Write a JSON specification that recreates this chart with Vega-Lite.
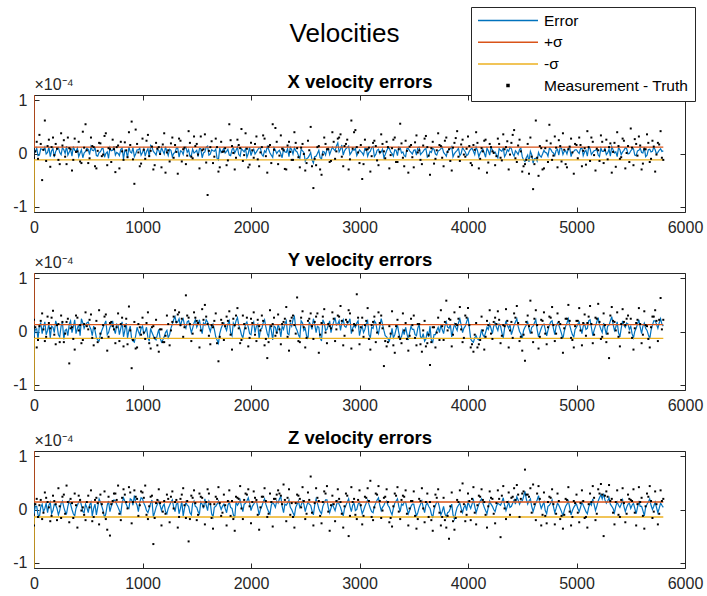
{
"$schema":"https://vega.github.io/schema/vega-lite/v6.json",
"padding":{"left":12,"top":6,"right":4,"bottom":4},
"config":{"view":{"stroke":"#262626","strokeWidth":1},"font":"Liberation Sans","axis":{"grid":false,"domain":false,"tickSize":-5,"tickColor":"#262626","labelColor":"#262626","labelFont":"Liberation Sans","labelFontSize":16,"labelFlush":false,"titleFont":"Liberation Sans"}},
"datasets":{
"vx":[{"t":0,"e":5,"m":-8},{"t":25,"e":10,"m":22},{"t":50,"e":-3,"m":35},{"t":75,"e":8,"m":-50},{"t":100,"e":12,"m":62},{"t":125,"e":2,"m":14},{"t":150,"e":-6,"m":-25},{"t":175,"e":9,"m":30},{"t":200,"e":4,"m":18},{"t":225,"e":11,"m":-12},
{"t":250,"e":-2,"m":38},{"t":275,"e":7,"m":25},{"t":300,"e":14,"m":-20},{"t":325,"e":3,"m":10},{"t":350,"e":-5,"m":-32},{"t":375,"e":6,"m":28},{"t":400,"e":10,"m":4},{"t":425,"e":1,"m":-15},{"t":450,"e":-8,"m":41},{"t":475,"e":4,"m":55},
{"t":500,"e":8,"m":-18},{"t":525,"e":13,"m":30},{"t":550,"e":5,"m":12},{"t":575,"e":-4,"m":-28},{"t":600,"e":2,"m":20},{"t":625,"e":9,"m":-5},{"t":650,"e":-7,"m":33},{"t":675,"e":3,"m":-22},{"t":700,"e":11,"m":8},{"t":725,"e":6,"m":26},
{"t":750,"e":-3,"m":-35},{"t":775,"e":0,"m":15},{"t":800,"e":8,"m":22},{"t":825,"e":-10,"m":-12},{"t":850,"e":4,"m":6},{"t":875,"e":12,"m":40},{"t":900,"e":1,"m":60},{"t":925,"e":-6,"m":-57},{"t":950,"e":7,"m":18},{"t":975,"e":10,"m":-24},
{"t":1000,"e":2,"m":28},{"t":1025,"e":-5,"m":-10},{"t":1050,"e":9,"m":35},{"t":1075,"e":15,"m":5},{"t":1100,"e":4,"m":-30},{"t":1125,"e":-3,"m":20},{"t":1150,"e":6,"m":12},{"t":1175,"e":11,"m":-26},{"t":1200,"e":-1,"m":38},{"t":1225,"e":3,"m":2},
{"t":1250,"e":8,"m":-15},{"t":1275,"e":-6,"m":30},{"t":1300,"e":2,"m":16},{"t":1325,"e":10,"m":-38},{"t":1350,"e":5,"m":24},{"t":1375,"e":-2,"m":8},{"t":1400,"e":12,"m":-20},{"t":1425,"e":7,"m":42},{"t":1450,"e":-4,"m":-6},{"t":1475,"e":1,"m":32},
{"t":1500,"e":6,"m":18},{"t":1525,"e":9,"m":-28},{"t":1550,"e":-8,"m":6},{"t":1575,"e":3,"m":36},{"t":1600,"e":14,"m":-78},{"t":1625,"e":-1,"m":12},{"t":1650,"e":5,"m":-18},{"t":1675,"e":8,"m":28},{"t":1700,"e":-12,"m":-34},{"t":1725,"e":2,"m":22},
{"t":1750,"e":10,"m":4},{"t":1775,"e":4,"m":-22},{"t":1800,"e":-3,"m":55},{"t":1825,"e":7,"m":14},{"t":1850,"e":1,"m":-30},{"t":1875,"e":12,"m":26},{"t":1900,"e":-5,"m":10},{"t":1925,"e":6,"m":-14},{"t":1950,"e":9,"m":38},{"t":1975,"e":0,"m":-26},
{"t":2000,"e":-4,"m":20},{"t":2025,"e":8,"m":-8},{"t":2050,"e":3,"m":32},{"t":2075,"e":11,"m":-24},{"t":2100,"e":-2,"m":12},{"t":2125,"e":5,"m":28},{"t":2150,"e":13,"m":-36},{"t":2175,"e":1,"m":16},{"t":2200,"e":-7,"m":55},{"t":2225,"e":6,"m":48},
{"t":2250,"e":4,"m":-20},{"t":2275,"e":-1,"m":34},{"t":2300,"e":9,"m":6},{"t":2325,"e":2,"m":-30},{"t":2350,"e":-6,"m":22},{"t":2375,"e":7,"m":-12},{"t":2400,"e":11,"m":40},{"t":2425,"e":3,"m":10},{"t":2450,"e":-9,"m":-26},{"t":2475,"e":5,"m":18},
{"t":2500,"e":-14,"m":-32},{"t":2525,"e":-8,"m":24},{"t":2550,"e":2,"m":50},{"t":2575,"e":-18,"m":-65},{"t":2600,"e":-5,"m":-22},{"t":2625,"e":6,"m":14},{"t":2650,"e":-10,"m":-40},{"t":2675,"e":3,"m":30},{"t":2700,"e":8,"m":8},{"t":2725,"e":-2,"m":-16},
{"t":2750,"e":12,"m":40},{"t":2775,"e":5,"m":-10},{"t":2800,"e":20,"m":28},{"t":2825,"e":8,"m":36},{"t":2850,"e":-3,"m":-24},{"t":2875,"e":9,"m":18},{"t":2900,"e":14,"m":-30},{"t":2925,"e":2,"m":62},{"t":2950,"e":6,"m":40},{"t":2975,"e":-4,"m":12},
{"t":3000,"e":7,"m":-18},{"t":3025,"e":1,"m":-48},{"t":3050,"e":10,"m":26},{"t":3075,"e":-5,"m":8},{"t":3100,"e":4,"m":-34},{"t":3125,"e":13,"m":20},{"t":3150,"e":-2,"m":14},{"t":3175,"e":8,"m":-22},{"t":3200,"e":3,"m":36},{"t":3225,"e":-8,"m":4},
{"t":3250,"e":5,"m":22},{"t":3275,"e":10,"m":-28},{"t":3300,"e":0,"m":10},{"t":3325,"e":7,"m":30},{"t":3350,"e":-4,"m":-16},{"t":3375,"e":11,"m":56},{"t":3400,"e":3,"m":-8},{"t":3425,"e":-6,"m":24},{"t":3450,"e":9,"m":-36},{"t":3475,"e":2,"m":16},
{"t":3500,"e":6,"m":-26},{"t":3525,"e":-3,"m":34},{"t":3550,"e":12,"m":6},{"t":3575,"e":1,"m":-20},{"t":3600,"e":8,"m":28},{"t":3625,"e":-7,"m":12},{"t":3650,"e":4,"m":-40},{"t":3675,"e":10,"m":22},{"t":3700,"e":-1,"m":-10},{"t":3725,"e":5,"m":38},
{"t":3750,"e":9,"m":14},{"t":3775,"e":2,"m":-24},{"t":3800,"e":-5,"m":30},{"t":3825,"e":7,"m":8},{"t":3850,"e":13,"m":-32},{"t":3875,"e":0,"m":20},{"t":3900,"e":6,"m":42},{"t":3925,"e":-4,"m":-14},{"t":3950,"e":11,"m":26},{"t":3975,"e":3,"m":-6},
{"t":4000,"e":-2,"m":32},{"t":4025,"e":8,"m":-18},{"t":4050,"e":4,"m":16},{"t":4075,"e":12,"m":40},{"t":4100,"e":-6,"m":-28},{"t":4125,"e":5,"m":10},{"t":4150,"e":1,"m":24},{"t":4175,"e":10,"m":-36},{"t":4200,"e":-3,"m":18},{"t":4225,"e":7,"m":4},
{"t":4250,"e":3,"m":-22},{"t":4275,"e":-8,"m":28},{"t":4300,"e":6,"m":-8},{"t":4325,"e":11,"m":36},{"t":4350,"e":-1,"m":12},{"t":4375,"e":4,"m":-30},{"t":4400,"e":9,"m":20},{"t":4425,"e":-5,"m":44},{"t":4450,"e":2,"m":-16},{"t":4475,"e":8,"m":26},
{"t":4500,"e":-6,"m":-34},{"t":4525,"e":-15,"m":-20},{"t":4550,"e":-3,"m":18},{"t":4575,"e":4,"m":30},{"t":4600,"e":-18,"m":-67},{"t":4625,"e":-9,"m":62},{"t":4650,"e":2,"m":-42},{"t":4675,"e":-7,"m":10},{"t":4700,"e":6,"m":-28},{"t":4725,"e":1,"m":24},
{"t":4750,"e":10,"m":54},{"t":4775,"e":3,"m":-12},{"t":4800,"e":-4,"m":32},{"t":4825,"e":8,"m":-26},{"t":4850,"e":12,"m":14},{"t":4875,"e":-2,"m":38},{"t":4900,"e":5,"m":-20},{"t":4925,"e":9,"m":8},{"t":4950,"e":-6,"m":28},{"t":4975,"e":4,"m":-38},
{"t":5000,"e":7,"m":16},{"t":5025,"e":0,"m":30},{"t":5050,"e":11,"m":-24},{"t":5075,"e":3,"m":10},{"t":5100,"e":-5,"m":42},{"t":5125,"e":9,"m":-14},{"t":5150,"e":2,"m":22},{"t":5175,"e":6,"m":-32},{"t":5200,"e":-3,"m":6},{"t":5225,"e":10,"m":34},
{"t":5250,"e":4,"m":-18},{"t":5275,"e":-2,"m":26},{"t":5300,"e":8,"m":12},{"t":5325,"e":13,"m":-36},{"t":5350,"e":1,"m":20},{"t":5375,"e":-6,"m":40},{"t":5400,"e":7,"m":-10},{"t":5425,"e":3,"m":28},{"t":5450,"e":11,"m":-28},{"t":5475,"e":-1,"m":14},
{"t":5500,"e":5,"m":47},{"t":5525,"e":9,"m":-22},{"t":5550,"e":-4,"m":18},{"t":5575,"e":6,"m":32},{"t":5600,"e":2,"m":-30},{"t":5625,"e":12,"m":8},{"t":5650,"e":-3,"m":36},{"t":5675,"e":8,"m":-16},{"t":5700,"e":4,"m":24},{"t":5725,"e":7,"m":-34},
{"t":5750,"e":2,"m":20},{"t":5775,"e":9,"m":42},{"t":5800,"e":5,"m":-12},
{"t":12,"e":3,"m":4},{"t":37,"e":-4,"m":-10},{"t":62,"e":9,"m":18},{"t":87,"e":6,"m":7},{"t":112,"e":-1,"m":-14},{"t":137,"e":12,"m":26},{"t":162,"e":5,"m":12},{"t":187,"e":-7,"m":-3},{"t":212,"e":8,"m":9},{"t":237,"e":2,"m":-20},
{"t":262,"e":11,"m":15},{"t":287,"e":0,"m":-6},{"t":312,"e":-3,"m":30},{"t":337,"e":8,"m":8},{"t":362,"e":13,"m":-12},{"t":387,"e":4,"m":3},{"t":412,"e":-6,"m":22},{"t":437,"e":7,"m":-18},{"t":462,"e":1,"m":11},{"t":487,"e":10,"m":6},
{"t":512,"e":-2,"m":-9},{"t":537,"e":6,"m":14},{"t":562,"e":12,"m":-24},{"t":587,"e":-5,"m":5},{"t":612,"e":3,"m":19},{"t":637,"e":9,"m":-2},{"t":662,"e":0,"m":38},{"t":687,"e":-9,"m":10},{"t":712,"e":5,"m":-16},{"t":737,"e":14,"m":8},
{"t":762,"e":2,"m":12},{"t":787,"e":-4,"m":-28},{"t":812,"e":10,"m":4},{"t":837,"e":6,"m":21},{"t":862,"e":-8,"m":-7},{"t":887,"e":3,"m":16},{"t":912,"e":11,"m":-11},{"t":937,"e":-1,"m":45},{"t":962,"e":7,"m":2},{"t":987,"e":-3,"m":-19},
{"t":1012,"e":9,"m":7},{"t":1037,"e":4,"m":24},{"t":1062,"e":-6,"m":-5},{"t":1087,"e":12,"m":13},{"t":1112,"e":1,"m":-22},{"t":1137,"e":8,"m":9},{"t":1162,"e":-2,"m":-1},{"t":1187,"e":5,"m":17},{"t":1212,"e":13,"m":-36},{"t":1237,"e":-4,"m":6},
{"t":1262,"e":6,"m":19},{"t":1287,"e":0,"m":-8},{"t":1312,"e":10,"m":3},{"t":1337,"e":-7,"m":28},{"t":1362,"e":4,"m":-15},{"t":1387,"e":11,"m":11},{"t":1412,"e":2,"m":-4},{"t":1437,"e":-5,"m":20},{"t":1462,"e":8,"m":-9},{"t":1487,"e":3,"m":14},
{"t":1512,"e":-6,"m":-2},{"t":1537,"e":9,"m":32},{"t":1562,"e":1,"m":8},{"t":1587,"e":12,"m":-17},{"t":1612,"e":-3,"m":5},{"t":1637,"e":7,"m":23},{"t":1662,"e":4,"m":-6},{"t":1687,"e":-9,"m":12},{"t":1712,"e":10,"m":-26},{"t":1737,"e":5,"m":3},
{"t":1762,"e":1,"m":10},{"t":1787,"e":8,"m":-13},{"t":1812,"e":-4,"m":25},{"t":1837,"e":11,"m":1},{"t":1862,"e":6,"m":-8},{"t":1887,"e":-2,"m":16},{"t":1912,"e":9,"m":46},{"t":1937,"e":3,"m":-3},{"t":1962,"e":-7,"m":9},{"t":1987,"e":12,"m":-21},
{"t":2012,"e":4,"m":6},{"t":2037,"e":-1,"m":18},{"t":2062,"e":7,"m":-11},{"t":2087,"e":10,"m":2},{"t":2112,"e":-5,"m":34},{"t":2137,"e":2,"m":-5},{"t":2162,"e":8,"m":13},{"t":2187,"e":-3,"m":-18},{"t":2212,"e":11,"m":7},{"t":2237,"e":0,"m":22},
{"t":2262,"e":6,"m":-4},{"t":2287,"e":-8,"m":9},{"t":2312,"e":3,"m":-29},{"t":2337,"e":9,"m":15},{"t":2362,"e":12,"m":3},{"t":2387,"e":-1,"m":-12},{"t":2412,"e":5,"m":20},{"t":2437,"e":-4,"m":-7},{"t":2462,"e":8,"m":11},{"t":2487,"e":2,"m":-1},
{"t":2512,"e":-10,"m":-18},{"t":2537,"e":-4,"m":6},{"t":2562,"e":-12,"m":-24},{"t":2587,"e":-6,"m":-10},{"t":2612,"e":0,"m":12},{"t":2637,"e":-8,"m":-30},{"t":2662,"e":4,"m":-2},{"t":2687,"e":-3,"m":18},{"t":2712,"e":10,"m":8},{"t":2737,"e":5,"m":-14},
{"t":2762,"e":8,"m":22},{"t":2787,"e":14,"m":4},{"t":2812,"e":3,"m":30},{"t":2837,"e":16,"m":-6},{"t":2862,"e":5,"m":14},{"t":2887,"e":11,"m":26},{"t":2912,"e":-2,"m":-11},{"t":2937,"e":7,"m":9},{"t":2962,"e":10,"m":44},{"t":2987,"e":1,"m":2},
{"t":3012,"e":4,"m":16},{"t":3037,"e":-3,"m":-20},{"t":3062,"e":9,"m":7},{"t":3087,"e":2,"m":11},{"t":3112,"e":11,"m":-5},{"t":3137,"e":-6,"m":24},{"t":3162,"e":6,"m":-13},{"t":3187,"e":0,"m":3},{"t":3212,"e":8,"m":18},{"t":3237,"e":-2,"m":-9},
{"t":3262,"e":10,"m":12},{"t":3287,"e":3,"m":-3},{"t":3312,"e":-5,"m":26},{"t":3337,"e":6,"m":-16},{"t":3362,"e":12,"m":8},{"t":3387,"e":1,"m":19},{"t":3412,"e":-4,"m":-24},{"t":3437,"e":9,"m":5},{"t":3462,"e":5,"m":13},{"t":3487,"e":-1,"m":-7},
{"t":3512,"e":7,"m":21},{"t":3537,"e":11,"m":2},{"t":3562,"e":-2,"m":-12},{"t":3587,"e":4,"m":15},{"t":3612,"e":9,"m":33},{"t":3637,"e":-5,"m":-4},{"t":3662,"e":2,"m":10},{"t":3687,"e":8,"m":-19},{"t":3712,"e":-3,"m":6},{"t":3737,"e":6,"m":16},
{"t":3762,"e":12,"m":-8},{"t":3787,"e":-1,"m":24},{"t":3812,"e":5,"m":3},{"t":3837,"e":9,"m":-14},{"t":3862,"e":-6,"m":11},{"t":3887,"e":3,"m":29},{"t":3912,"e":10,"m":-6},{"t":3937,"e":0,"m":17},{"t":3962,"e":7,"m":-2},{"t":3987,"e":-4,"m":9},
{"t":4012,"e":4,"m":14},{"t":4037,"e":10,"m":-22},{"t":4062,"e":-2,"m":7},{"t":4087,"e":6,"m":20},{"t":4112,"e":1,"m":-10},{"t":4137,"e":8,"m":4},{"t":4162,"e":-7,"m":26},{"t":4187,"e":5,"m":-17},{"t":4212,"e":11,"m":12},{"t":4237,"e":2,"m":1},
{"t":4262,"e":-3,"m":-5},{"t":4287,"e":9,"m":18},{"t":4312,"e":4,"m":-13},{"t":4337,"e":-6,"m":8},{"t":4362,"e":7,"m":23},{"t":4387,"e":12,"m":-2},{"t":4412,"e":0,"m":35},{"t":4437,"e":5,"m":-9},{"t":4462,"e":-2,"m":15},{"t":4487,"e":10,"m":4},
{"t":4512,"e":-12,"m":-24},{"t":4537,"e":-8,"m":-12},{"t":4562,"e":-16,"m":-38},{"t":4587,"e":-2,"m":-6},{"t":4612,"e":-10,"m":-20},{"t":4637,"e":-14,"m":-8},{"t":4662,"e":-4,"m":14},{"t":4687,"e":-1,"m":-30},{"t":4712,"e":2,"m":10},{"t":4737,"e":-5,"m":-16},
{"t":4762,"e":8,"m":19},{"t":4787,"e":1,"m":-4},{"t":4812,"e":6,"m":11},{"t":4837,"e":-3,"m":25},{"t":4862,"e":10,"m":-15},{"t":4887,"e":4,"m":7},{"t":4912,"e":-1,"m":-26},{"t":4937,"e":12,"m":13},{"t":4962,"e":2,"m":2},{"t":4987,"e":7,"m":18},
{"t":5012,"e":3,"m":-9},{"t":5037,"e":9,"m":16},{"t":5062,"e":-4,"m":5},{"t":5087,"e":6,"m":-21},{"t":5112,"e":12,"m":12},{"t":5137,"e":-2,"m":30},{"t":5162,"e":5,"m":-3},{"t":5187,"e":8,"m":9},{"t":5212,"e":-6,"m":-14},{"t":5237,"e":4,"m":22},
{"t":5262,"e":10,"m":6},{"t":5287,"e":1,"m":-11},{"t":5312,"e":-5,"m":19},{"t":5337,"e":7,"m":3},{"t":5362,"e":3,"m":-25},{"t":5387,"e":11,"m":14},{"t":5412,"e":-2,"m":-7},{"t":5437,"e":6,"m":24},{"t":5462,"e":9,"m":1},{"t":5487,"e":0,"m":-16},
{"t":5512,"e":8,"m":11},{"t":5537,"e":-3,"m":27},{"t":5562,"e":5,"m":-4},{"t":5587,"e":10,"m":15},{"t":5612,"e":1,"m":-19},{"t":5637,"e":-6,"m":8},{"t":5662,"e":7,"m":20},{"t":5687,"e":3,"m":-10},{"t":5712,"e":12,"m":13},{"t":5737,"e":-1,"m":-2},
{"t":5762,"e":6,"m":17},{"t":5787,"e":4,"m":-8}],
"vy":[{"t":0,"e":-10,"m":22},{"t":25,"e":5,"m":-30},{"t":50,"e":12,"m":10},{"t":75,"e":-4,"m":34},{"t":100,"e":18,"m":-18},{"t":125,"e":2,"m":28},{"t":150,"e":-12,"m":6},{"t":175,"e":8,"m":39},{"t":200,"e":20,"m":-24},{"t":225,"e":-6,"m":14},
{"t":250,"e":10,"m":30},{"t":275,"e":-15,"m":-20},{"t":300,"e":4,"m":18},{"t":325,"e":14,"m":-60},{"t":350,"e":-2,"m":8},{"t":375,"e":22,"m":-34},{"t":400,"e":6,"m":26},{"t":425,"e":-8,"m":12},{"t":450,"e":16,"m":-16},{"t":475,"e":12,"m":36},
{"t":500,"e":18,"m":4},{"t":525,"e":4,"m":32},{"t":550,"e":10,"m":-26},{"t":575,"e":-12,"m":20},{"t":600,"e":-18,"m":40},{"t":625,"e":2,"m":-12},{"t":650,"e":14,"m":28},{"t":675,"e":-6,"m":-36},{"t":700,"e":8,"m":16},{"t":725,"e":20,"m":10},
{"t":750,"e":-4,"m":-22},{"t":775,"e":12,"m":34},{"t":800,"e":6,"m":14},{"t":825,"e":-10,"m":-28},{"t":850,"e":16,"m":24},{"t":875,"e":2,"m":47},{"t":900,"e":-14,"m":-69},{"t":925,"e":-20,"m":18},{"t":950,"e":8,"m":-30},{"t":975,"e":-6,"m":8},
{"t":1000,"e":10,"m":26},{"t":1025,"e":0,"m":-14},{"t":1050,"e":-12,"m":36},{"t":1075,"e":6,"m":-32},{"t":1100,"e":-8,"m":10},{"t":1125,"e":-16,"m":22},{"t":1150,"e":4,"m":-38},{"t":1175,"e":-20,"m":4},{"t":1200,"e":-10,"m":-20},{"t":1225,"e":2,"m":30},
{"t":1250,"e":-6,"m":-26},{"t":1275,"e":14,"m":18},{"t":1300,"e":28,"m":40},{"t":1325,"e":18,"m":32},{"t":1350,"e":10,"m":12},{"t":1375,"e":24,"m":-10},{"t":1400,"e":6,"m":68},{"t":1425,"e":20,"m":26},{"t":1450,"e":-2,"m":-18},{"t":1475,"e":16,"m":36},
{"t":1500,"e":8,"m":20},{"t":1525,"e":22,"m":-30},{"t":1550,"e":-4,"m":42},{"t":1575,"e":12,"m":50},{"t":1600,"e":18,"m":14},{"t":1625,"e":0,"m":-24},{"t":1650,"e":14,"m":8},{"t":1675,"e":-10,"m":34},{"t":1700,"e":-22,"m":-56},{"t":1725,"e":6,"m":22},
{"t":1750,"e":16,"m":-16},{"t":1775,"e":2,"m":28},{"t":1800,"e":20,"m":38},{"t":1825,"e":-8,"m":-34},{"t":1850,"e":10,"m":12},{"t":1875,"e":26,"m":44},{"t":1900,"e":4,"m":-22},{"t":1925,"e":-12,"m":30},{"t":1950,"e":14,"m":6},{"t":1975,"e":8,"m":-28},
{"t":2000,"e":-6,"m":24},{"t":2025,"e":18,"m":36},{"t":2050,"e":10,"m":-18},{"t":2075,"e":-14,"m":10},{"t":2100,"e":6,"m":30},{"t":2125,"e":22,"m":-26},{"t":2150,"e":-4,"m":-50},{"t":2175,"e":12,"m":40},{"t":2200,"e":-16,"m":14},{"t":2225,"e":8,"m":-8},
{"t":2250,"e":14,"m":32},{"t":2275,"e":-10,"m":-24},{"t":2300,"e":4,"m":18},{"t":2325,"e":20,"m":46},{"t":2350,"e":-6,"m":-36},{"t":2375,"e":10,"m":26},{"t":2400,"e":28,"m":12},{"t":2425,"e":2,"m":64},{"t":2450,"e":-12,"m":-20},{"t":2475,"e":16,"m":38},
{"t":2500,"e":6,"m":-30},{"t":2525,"e":-14,"m":20},{"t":2550,"e":12,"m":34},{"t":2575,"e":24,"m":-14},{"t":2600,"e":-2,"m":28},{"t":2625,"e":8,"m":-40},{"t":2650,"e":-18,"m":16},{"t":2675,"e":16,"m":42},{"t":2700,"e":4,"m":-22},{"t":2725,"e":20,"m":10},
{"t":2750,"e":10,"m":36},{"t":2775,"e":26,"m":-18},{"t":2800,"e":14,"m":30},{"t":2825,"e":2,"m":48},{"t":2850,"e":22,"m":-26},{"t":2875,"e":8,"m":22},{"t":2900,"e":18,"m":40},{"t":2925,"e":-4,"m":-32},{"t":2950,"e":12,"m":14},{"t":2975,"e":16,"m":70},
{"t":3000,"e":-8,"m":-24},{"t":3025,"e":10,"m":26},{"t":3050,"e":4,"m":12},{"t":3075,"e":20,"m":44},{"t":3100,"e":-12,"m":-34},{"t":3125,"e":6,"m":18},{"t":3150,"e":16,"m":-20},{"t":3175,"e":-4,"m":36},{"t":3200,"e":24,"m":30},{"t":3225,"e":2,"m":-65},
{"t":3250,"e":-10,"m":-28},{"t":3275,"e":-18,"m":10},{"t":3300,"e":6,"m":38},{"t":3325,"e":-6,"m":-40},{"t":3350,"e":12,"m":22},{"t":3375,"e":-14,"m":-14},{"t":3400,"e":2,"m":34},{"t":3425,"e":8,"m":16},{"t":3450,"e":-16,"m":-36},{"t":3475,"e":10,"m":24},
{"t":3500,"e":4,"m":30},{"t":3525,"e":-8,"m":-26},{"t":3550,"e":14,"m":14},{"t":3575,"e":-12,"m":-38},{"t":3600,"e":-18,"m":20},{"t":3625,"e":0,"m":-22},{"t":3650,"e":10,"m":-63},{"t":3675,"e":-20,"m":8},{"t":3700,"e":-6,"m":-30},{"t":3725,"e":8,"m":26},
{"t":3750,"e":12,"m":40},{"t":3775,"e":-4,"m":-16},{"t":3800,"e":18,"m":58},{"t":3825,"e":6,"m":24},{"t":3850,"e":-10,"m":-28},{"t":3875,"e":14,"m":36},{"t":3900,"e":2,"m":12},{"t":3925,"e":24,"m":46},{"t":3950,"e":-2,"m":-20},{"t":3975,"e":10,"m":30},
{"t":4000,"e":26,"m":44},{"t":4025,"e":-14,"m":-30},{"t":4050,"e":-20,"m":-38},{"t":4075,"e":-8,"m":16},{"t":4100,"e":-16,"m":-24},{"t":4125,"e":4,"m":28},{"t":4150,"e":-10,"m":-34},{"t":4175,"e":8,"m":20},{"t":4200,"e":14,"m":40},{"t":4225,"e":-4,"m":-14},
{"t":4250,"e":16,"m":26},{"t":4275,"e":2,"m":38},{"t":4300,"e":10,"m":-22},{"t":4325,"e":-12,"m":12},{"t":4350,"e":20,"m":42},{"t":4375,"e":6,"m":-30},{"t":4400,"e":-6,"m":18},{"t":4425,"e":12,"m":34},{"t":4450,"e":24,"m":48},{"t":4475,"e":0,"m":-18},
{"t":4500,"e":-14,"m":-36},{"t":4525,"e":8,"m":-55},{"t":4550,"e":18,"m":30},{"t":4575,"e":-4,"m":58},{"t":4600,"e":10,"m":-20},{"t":4625,"e":22,"m":40},{"t":4650,"e":-10,"m":-32},{"t":4675,"e":6,"m":22},{"t":4700,"e":14,"m":36},{"t":4725,"e":-8,"m":-24},
{"t":4750,"e":12,"m":28},{"t":4775,"e":20,"m":46},{"t":4800,"e":-6,"m":-18},{"t":4825,"e":16,"m":34},{"t":4850,"e":4,"m":14},{"t":4875,"e":-14,"m":-40},{"t":4900,"e":10,"m":24},{"t":4925,"e":24,"m":50},{"t":4950,"e":2,"m":-12},{"t":4975,"e":-10,"m":-30},
{"t":5000,"e":8,"m":20},{"t":5025,"e":18,"m":44},{"t":5050,"e":-4,"m":-26},{"t":5075,"e":14,"m":32},{"t":5100,"e":6,"m":16},{"t":5125,"e":22,"m":48},{"t":5150,"e":-8,"m":-22},{"t":5175,"e":10,"m":26},{"t":5200,"e":26,"m":52},{"t":5225,"e":4,"m":-14},
{"t":5250,"e":16,"m":34},{"t":5275,"e":-6,"m":-20},{"t":5300,"e":12,"m":-50},{"t":5325,"e":28,"m":46},{"t":5350,"e":2,"m":18},{"t":5375,"e":18,"m":36},{"t":5400,"e":-10,"m":-28},{"t":5425,"e":20,"m":42},{"t":5450,"e":8,"m":12},{"t":5475,"e":14,"m":30},
{"t":5500,"e":10,"m":24},{"t":5525,"e":-12,"m":-34},{"t":5550,"e":6,"m":16},{"t":5575,"e":22,"m":44},{"t":5600,"e":-4,"m":-22},{"t":5625,"e":16,"m":38},{"t":5650,"e":2,"m":10},{"t":5675,"e":-14,"m":-30},{"t":5700,"e":12,"m":28},{"t":5725,"e":20,"m":40},
{"t":5750,"e":6,"m":-18},{"t":5775,"e":24,"m":63},{"t":5800,"e":10,"m":22},
{"t":12,"e":4,"m":8},{"t":37,"e":-14,"m":-16},{"t":62,"e":16,"m":20},{"t":87,"e":8,"m":4},{"t":112,"e":-6,"m":-10},{"t":137,"e":14,"m":16},{"t":162,"e":10,"m":26},{"t":187,"e":-2,"m":-6},{"t":212,"e":12,"m":12},{"t":237,"e":-10,"m":-20},
{"t":262,"e":18,"m":18},{"t":287,"e":2,"m":-4},{"t":312,"e":-8,"m":24},{"t":337,"e":20,"m":6},{"t":362,"e":8,"m":-14},{"t":387,"e":-4,"m":30},{"t":412,"e":14,"m":2},{"t":437,"e":24,"m":-22},{"t":462,"e":6,"m":14},{"t":487,"e":16,"m":10},
{"t":512,"e":10,"m":22},{"t":537,"e":-8,"m":-12},{"t":562,"e":2,"m":6},{"t":587,"e":-16,"m":-20},{"t":612,"e":-6,"m":-4},{"t":637,"e":8,"m":12},{"t":662,"e":20,"m":32},{"t":687,"e":-2,"m":-10},{"t":712,"e":12,"m":18},{"t":737,"e":4,"m":4},
{"t":762,"e":14,"m":8},{"t":787,"e":-6,"m":-18},{"t":812,"e":18,"m":26},{"t":837,"e":2,"m":10},{"t":862,"e":-12,"m":-24},{"t":887,"e":10,"m":2},{"t":912,"e":-18,"m":-16},{"t":937,"e":-8,"m":-32},{"t":962,"e":0,"m":14},{"t":987,"e":6,"m":-6},
{"t":1012,"e":-4,"m":-2},{"t":1037,"e":8,"m":16},{"t":1062,"e":-18,"m":-22},{"t":1087,"e":-2,"m":8},{"t":1112,"e":-14,"m":-12},{"t":1137,"e":-6,"m":-26},{"t":1162,"e":-12,"m":4},{"t":1187,"e":-16,"m":-20},{"t":1212,"e":-2,"m":-8},{"t":1237,"e":-12,"m":14},
{"t":1262,"e":6,"m":2},{"t":1287,"e":22,"m":28},{"t":1312,"e":16,"m":18},{"t":1337,"e":24,"m":36},{"t":1362,"e":20,"m":24},{"t":1387,"e":12,"m":8},{"t":1412,"e":18,"m":30},{"t":1437,"e":10,"m":14},{"t":1462,"e":6,"m":-4},{"t":1487,"e":22,"m":26},
{"t":1512,"e":14,"m":16},{"t":1537,"e":6,"m":2},{"t":1562,"e":16,"m":22},{"t":1587,"e":22,"m":28},{"t":1612,"e":8,"m":-8},{"t":1637,"e":10,"m":12},{"t":1662,"e":4,"m":20},{"t":1687,"e":-16,"m":-22},{"t":1712,"e":-4,"m":-10},{"t":1737,"e":12,"m":16},
{"t":1762,"e":8,"m":10},{"t":1787,"e":14,"m":20},{"t":1812,"e":-2,"m":-6},{"t":1837,"e":16,"m":24},{"t":1862,"e":20,"m":30},{"t":1887,"e":12,"m":6},{"t":1912,"e":-6,"m":-16},{"t":1937,"e":2,"m":14},{"t":1962,"e":18,"m":26},{"t":1987,"e":-4,"m":-12},
{"t":2012,"e":12,"m":16},{"t":2037,"e":-2,"m":-6},{"t":2062,"e":14,"m":22},{"t":2087,"e":4,"m":2},{"t":2112,"e":16,"m":20},{"t":2137,"e":8,"m":-14},{"t":2162,"e":-10,"m":-20},{"t":2187,"e":2,"m":10},{"t":2212,"e":10,"m":26},{"t":2237,"e":-4,"m":-2},
{"t":2262,"e":6,"m":4},{"t":2287,"e":10,"m":14},{"t":2312,"e":14,"m":24},{"t":2337,"e":-4,"m":-10},{"t":2362,"e":16,"m":20},{"t":2387,"e":22,"m":30},{"t":2412,"e":8,"m":-4},{"t":2437,"e":-6,"m":-18},{"t":2462,"e":20,"m":26},{"t":2487,"e":2,"m":8},
{"t":2512,"e":-8,"m":-12},{"t":2537,"e":18,"m":24},{"t":2562,"e":4,"m":10},{"t":2587,"e":14,"m":18},{"t":2612,"e":10,"m":34},{"t":2637,"e":-12,"m":-6},{"t":2662,"e":22,"m":28},{"t":2687,"e":2,"m":-2},{"t":2712,"e":12,"m":14},{"t":2737,"e":-2,"m":6},
{"t":2762,"e":18,"m":24},{"t":2787,"e":12,"m":4},{"t":2812,"e":20,"m":28},{"t":2837,"e":16,"m":20},{"t":2862,"e":10,"m":-8},{"t":2887,"e":14,"m":18},{"t":2912,"e":24,"m":34},{"t":2937,"e":6,"m":2},{"t":2962,"e":8,"m":12},{"t":2987,"e":20,"m":26},
{"t":3012,"e":4,"m":8},{"t":3037,"e":-2,"m":-10},{"t":3062,"e":14,"m":20},{"t":3087,"e":-6,"m":-14},{"t":3112,"e":8,"m":12},{"t":3137,"e":20,"m":28},{"t":3162,"e":2,"m":-2},{"t":3187,"e":10,"m":16},{"t":3212,"e":14,"m":6},{"t":3237,"e":-8,"m":-18},
{"t":3262,"e":-14,"m":-20},{"t":3287,"e":-8,"m":-4},{"t":3312,"e":-12,"m":-26},{"t":3337,"e":4,"m":10},{"t":3362,"e":-2,"m":-10},{"t":3387,"e":-10,"m":-22},{"t":3412,"e":-6,"m":2},{"t":3437,"e":-4,"m":-14},{"t":3462,"e":-2,"m":-8},{"t":3487,"e":4,"m":12},
{"t":3512,"e":-6,"m":-12},{"t":3537,"e":6,"m":14},{"t":3562,"e":-10,"m":-24},{"t":3587,"e":-4,"m":2},{"t":3612,"e":-14,"m":-28},{"t":3637,"e":-10,"m":-6},{"t":3662,"e":-16,"m":-20},{"t":3687,"e":-6,"m":8},{"t":3712,"e":2,"m":-2},{"t":3737,"e":-2,"m":-16},
{"t":3762,"e":4,"m":10},{"t":3787,"e":10,"m":18},{"t":3812,"e":8,"m":2},{"t":3837,"e":14,"m":22},{"t":3862,"e":2,"m":-6},{"t":3887,"e":8,"m":14},{"t":3912,"e":16,"m":24},{"t":3937,"e":12,"m":4},{"t":3962,"e":6,"m":-12},{"t":3987,"e":18,"m":26},
{"t":4012,"e":8,"m":12},{"t":4037,"e":-18,"m":-24},{"t":4062,"e":-12,"m":-6},{"t":4087,"e":-14,"m":-30},{"t":4112,"e":-10,"m":-16},{"t":4137,"e":-6,"m":2},{"t":4162,"e":-2,"m":-10},{"t":4187,"e":4,"m":12},{"t":4212,"e":6,"m":-4},{"t":4237,"e":10,"m":18},
{"t":4262,"e":8,"m":14},{"t":4287,"e":14,"m":22},{"t":4312,"e":-2,"m":-8},{"t":4337,"e":6,"m":10},{"t":4362,"e":12,"m":20},{"t":4387,"e":14,"m":2},{"t":4412,"e":2,"m":-12},{"t":4437,"e":18,"m":26},{"t":4462,"e":10,"m":16},{"t":4487,"e":-4,"m":-10},
{"t":4512,"e":2,"m":-6},{"t":4537,"e":12,"m":18},{"t":4562,"e":6,"m":10},{"t":4587,"e":8,"m":-2},{"t":4612,"e":16,"m":24},{"t":4637,"e":4,"m":12},{"t":4662,"e":-2,"m":-10},{"t":4687,"e":12,"m":20},{"t":4712,"e":4,"m":-4},{"t":4737,"e":2,"m":8},
{"t":4762,"e":18,"m":26},{"t":4787,"e":6,"m":12},{"t":4812,"e":10,"m":-4},{"t":4837,"e":12,"m":18},{"t":4862,"e":-4,"m":-12},{"t":4887,"e":0,"m":6},{"t":4912,"e":16,"m":24},{"t":4937,"e":12,"m":20},{"t":4962,"e":-6,"m":-16},{"t":4987,"e":4,"m":10},
{"t":5012,"e":14,"m":20},{"t":5037,"e":6,"m":2},{"t":5062,"e":10,"m":16},{"t":5087,"e":4,"m":-8},{"t":5112,"e":20,"m":28},{"t":5137,"e":8,"m":14},{"t":5162,"e":2,"m":-6},{"t":5187,"e":18,"m":24},{"t":5212,"e":12,"m":18},{"t":5237,"e":-2,"m":-10},
{"t":5262,"e":6,"m":12},{"t":5287,"e":10,"m":-4},{"t":5312,"e":20,"m":30},{"t":5337,"e":14,"m":20},{"t":5362,"e":8,"m":2},{"t":5387,"e":-2,"m":-10},{"t":5412,"e":6,"m":14},{"t":5437,"e":12,"m":18},{"t":5462,"e":16,"m":24},{"t":5487,"e":4,"m":-2},
{"t":5512,"e":-4,"m":-12},{"t":5537,"e":0,"m":6},{"t":5562,"e":14,"m":22},{"t":5587,"e":8,"m":14},{"t":5612,"e":10,"m":-6},{"t":5637,"e":6,"m":12},{"t":5662,"e":-6,"m":-14},{"t":5687,"e":2,"m":8},{"t":5712,"e":20,"m":28},{"t":5737,"e":14,"m":20},
{"t":5762,"e":16,"m":22},{"t":5787,"e":14,"m":4}],
"vz":[{"t":0,"e":-8,"m":-30},{"t":25,"e":6,"m":20},{"t":50,"e":-14,"m":8},{"t":75,"e":10,"m":-18},{"t":100,"e":2,"m":32},{"t":125,"e":-6,"m":14},{"t":150,"e":14,"m":-22},{"t":175,"e":-2,"m":26},{"t":200,"e":8,"m":10},{"t":225,"e":-10,"m":40},
{"t":250,"e":12,"m":-16},{"t":275,"e":4,"m":28},{"t":300,"e":-8,"m":45},{"t":325,"e":16,"m":-24},{"t":350,"e":0,"m":12},{"t":375,"e":-12,"m":30},{"t":400,"e":8,"m":-34},{"t":425,"e":18,"m":18},{"t":450,"e":-4,"m":4},{"t":475,"e":10,"m":-20},
{"t":500,"e":-6,"m":26},{"t":525,"e":14,"m":36},{"t":550,"e":2,"m":-14},{"t":575,"e":-10,"m":22},{"t":600,"e":20,"m":-28},{"t":625,"e":6,"m":10},{"t":650,"e":-16,"m":34},{"t":675,"e":8,"m":-38},{"t":700,"e":-4,"m":-49},{"t":725,"e":12,"m":16},
{"t":750,"e":16,"m":30},{"t":775,"e":4,"m":45},{"t":800,"e":-8,"m":-20},{"t":825,"e":22,"m":38},{"t":850,"e":10,"m":14},{"t":875,"e":2,"m":42},{"t":900,"e":18,"m":-26},{"t":925,"e":26,"m":36},{"t":950,"e":8,"m":20},{"t":975,"e":14,"m":8},
{"t":1000,"e":20,"m":32},{"t":1025,"e":6,"m":45},{"t":1050,"e":-6,"m":-18},{"t":1075,"e":12,"m":24},{"t":1100,"e":-14,"m":-65},{"t":1125,"e":4,"m":12},{"t":1150,"e":16,"m":38},{"t":1175,"e":-2,"m":-30},{"t":1200,"e":10,"m":16},{"t":1225,"e":-8,"m":28},
{"t":1250,"e":8,"m":-24},{"t":1275,"e":18,"m":34},{"t":1300,"e":-4,"m":14},{"t":1325,"e":12,"m":-34},{"t":1350,"e":2,"m":20},{"t":1375,"e":-12,"m":40},{"t":1400,"e":14,"m":-16},{"t":1425,"e":6,"m":-60},{"t":1450,"e":-10,"m":26},{"t":1475,"e":16,"m":36},
{"t":1500,"e":4,"m":-20},{"t":1525,"e":-8,"m":30},{"t":1550,"e":10,"m":22},{"t":1575,"e":20,"m":-28},{"t":1600,"e":-2,"m":38},{"t":1625,"e":12,"m":10},{"t":1650,"e":-14,"m":-36},{"t":1675,"e":6,"m":24},{"t":1700,"e":16,"m":42},{"t":1725,"e":0,"m":-12},
{"t":1750,"e":10,"m":28},{"t":1775,"e":-6,"m":-30},{"t":1800,"e":14,"m":36},{"t":1825,"e":2,"m":16},{"t":1850,"e":-16,"m":-40},{"t":1875,"e":8,"m":22},{"t":1900,"e":18,"m":44},{"t":1925,"e":-4,"m":-18},{"t":1950,"e":12,"m":30},{"t":1975,"e":22,"m":38},
{"t":2000,"e":-2,"m":-26},{"t":2025,"e":10,"m":34},{"t":2050,"e":16,"m":18},{"t":2075,"e":-10,"m":-38},{"t":2100,"e":6,"m":24},{"t":2125,"e":20,"m":40},{"t":2150,"e":2,"m":-14},{"t":2175,"e":-8,"m":30},{"t":2200,"e":14,"m":-32},{"t":2225,"e":4,"m":20},
{"t":2250,"e":12,"m":36},{"t":2275,"e":24,"m":26},{"t":2300,"e":-6,"m":47},{"t":2325,"e":8,"m":-22},{"t":2350,"e":18,"m":38},{"t":2375,"e":0,"m":12},{"t":2400,"e":-12,"m":-34},{"t":2425,"e":10,"m":28},{"t":2450,"e":4,"m":20},{"t":2475,"e":16,"m":42},
{"t":2500,"e":-4,"m":-18},{"t":2525,"e":14,"m":32},{"t":2550,"e":8,"m":62},{"t":2575,"e":-10,"m":-30},{"t":2600,"e":20,"m":40},{"t":2625,"e":2,"m":16},{"t":2650,"e":-8,"m":-26},{"t":2675,"e":12,"m":34},{"t":2700,"e":18,"m":44},{"t":2725,"e":-6,"m":-40},
{"t":2750,"e":10,"m":26},{"t":2775,"e":-2,"m":-22},{"t":2800,"e":16,"m":38},{"t":2825,"e":4,"m":14},{"t":2850,"e":-12,"m":-34},{"t":2875,"e":8,"m":30},{"t":2900,"e":20,"m":-50},{"t":2925,"e":-4,"m":42},{"t":2950,"e":12,"m":20},{"t":2975,"e":0,"m":-18},
{"t":3000,"e":14,"m":36},{"t":3025,"e":-8,"m":-28},{"t":3050,"e":6,"m":24},{"t":3075,"e":18,"m":40},{"t":3100,"e":2,"m":54},{"t":3125,"e":-6,"m":-20},{"t":3150,"e":12,"m":30},{"t":3175,"e":22,"m":44},{"t":3200,"e":-2,"m":-16},{"t":3225,"e":8,"m":22},
{"t":3250,"e":16,"m":38},{"t":3275,"e":4,"m":-24},{"t":3300,"e":-10,"m":-32},{"t":3325,"e":12,"m":30},{"t":3350,"e":20,"m":42},{"t":3375,"e":-4,"m":-18},{"t":3400,"e":8,"m":26},{"t":3425,"e":14,"m":36},{"t":3450,"e":-8,"m":-30},{"t":3475,"e":6,"m":16},
{"t":3500,"e":10,"m":34},{"t":3525,"e":-12,"m":-36},{"t":3550,"e":4,"m":20},{"t":3575,"e":16,"m":40},{"t":3600,"e":-6,"m":-24},{"t":3625,"e":12,"m":30},{"t":3650,"e":2,"m":14},{"t":3675,"e":-16,"m":-40},{"t":3700,"e":8,"m":28},{"t":3725,"e":14,"m":38},
{"t":3750,"e":-10,"m":-30},{"t":3775,"e":6,"m":22},{"t":3800,"e":-14,"m":-34},{"t":3825,"e":-4,"m":-55},{"t":3850,"e":10,"m":32},{"t":3875,"e":-18,"m":-38},{"t":3900,"e":4,"m":18},{"t":3925,"e":12,"m":36},{"t":3950,"e":-6,"m":49},{"t":3975,"e":8,"m":-22},
{"t":4000,"e":14,"m":30},{"t":4025,"e":2,"m":-20},{"t":4050,"e":18,"m":42},{"t":4075,"e":-6,"m":-28},{"t":4100,"e":10,"m":26},{"t":4125,"e":20,"m":38},{"t":4150,"e":4,"m":14},{"t":4175,"e":-8,"m":-34},{"t":4200,"e":16,"m":34},{"t":4225,"e":6,"m":20},
{"t":4250,"e":-4,"m":-26},{"t":4275,"e":12,"m":36},{"t":4300,"e":8,"m":-52},{"t":4325,"e":22,"m":44},{"t":4350,"e":-2,"m":-18},{"t":4375,"e":14,"m":32},{"t":4400,"e":6,"m":22},{"t":4425,"e":18,"m":40},{"t":4450,"e":24,"m":46},{"t":4475,"e":10,"m":-14},
{"t":4500,"e":16,"m":30},{"t":4525,"e":34,"m":75},{"t":4550,"e":10,"m":28},{"t":4575,"e":20,"m":40},{"t":4600,"e":-4,"m":47},{"t":4625,"e":12,"m":-20},{"t":4650,"e":26,"m":44},{"t":4675,"e":2,"m":-30},{"t":4700,"e":14,"m":32},{"t":4725,"e":-8,"m":-26},
{"t":4750,"e":8,"m":24},{"t":4775,"e":18,"m":38},{"t":4800,"e":-6,"m":-28},{"t":4825,"e":12,"m":30},{"t":4850,"e":2,"m":-18},{"t":4875,"e":-12,"m":-36},{"t":4900,"e":6,"m":20},{"t":4925,"e":16,"m":42},{"t":4950,"e":-10,"m":-30},{"t":4975,"e":4,"m":16},
{"t":5000,"e":10,"m":28},{"t":5025,"e":-4,"m":-24},{"t":5050,"e":14,"m":36},{"t":5075,"e":2,"m":-16},{"t":5100,"e":-8,"m":-34},{"t":5125,"e":12,"m":30},{"t":5150,"e":20,"m":44},{"t":5175,"e":-2,"m":-20},{"t":5200,"e":16,"m":38},{"t":5225,"e":28,"m":48},
{"t":5250,"e":30,"m":-50},{"t":5275,"e":12,"m":34},{"t":5300,"e":22,"m":46},{"t":5325,"e":6,"m":20},{"t":5350,"e":-6,"m":-28},{"t":5375,"e":14,"m":36},{"t":5400,"e":4,"m":-14},{"t":5425,"e":18,"m":40},{"t":5450,"e":-4,"m":-24},{"t":5475,"e":10,"m":28},
{"t":5500,"e":2,"m":18},{"t":5525,"e":12,"m":38},{"t":5550,"e":-8,"m":-30},{"t":5575,"e":16,"m":42},{"t":5600,"e":6,"m":22},{"t":5625,"e":-12,"m":-36},{"t":5650,"e":10,"m":30},{"t":5675,"e":20,"m":44},{"t":5700,"e":0,"m":-16},{"t":5725,"e":14,"m":34},
{"t":5750,"e":-6,"m":-28},{"t":5775,"e":12,"m":36},{"t":5800,"e":4,"m":20},
{"t":12,"e":6,"m":10},{"t":37,"e":-10,"m":-14},{"t":62,"e":4,"m":18},{"t":87,"e":-4,"m":-6},{"t":112,"e":12,"m":22},{"t":137,"e":8,"m":4},{"t":162,"e":-8,"m":-12},{"t":187,"e":10,"m":16},{"t":212,"e":2,"m":-20},{"t":237,"e":-2,"m":6},
{"t":262,"e":16,"m":24},{"t":287,"e":-4,"m":-8},{"t":312,"e":6,"m":14},{"t":337,"e":10,"m":20},{"t":362,"e":-8,"m":-16},{"t":387,"e":2,"m":8},{"t":412,"e":14,"m":26},{"t":437,"e":8,"m":-2},{"t":462,"e":-6,"m":-10},{"t":487,"e":4,"m":14},
{"t":512,"e":8,"m":4},{"t":537,"e":-12,"m":-22},{"t":562,"e":10,"m":18},{"t":587,"e":4,"m":12},{"t":612,"e":14,"m":28},{"t":637,"e":-2,"m":-6},{"t":662,"e":-8,"m":-18},{"t":687,"e":16,"m":24},{"t":712,"e":6,"m":10},{"t":737,"e":18,"m":30},
{"t":762,"e":10,"m":18},{"t":787,"e":-2,"m":-8},{"t":812,"e":12,"m":22},{"t":837,"e":16,"m":28},{"t":862,"e":4,"m":2},{"t":887,"e":20,"m":32},{"t":912,"e":8,"m":14},{"t":937,"e":14,"m":24},{"t":962,"e":-4,"m":-12},{"t":987,"e":22,"m":34},
{"t":1012,"e":12,"m":22},{"t":1037,"e":-2,"m":-10},{"t":1062,"e":2,"m":6},{"t":1087,"e":18,"m":26},{"t":1112,"e":-6,"m":-16},{"t":1137,"e":10,"m":18},{"t":1162,"e":8,"m":12},{"t":1187,"e":6,"m":-4},{"t":1212,"e":-4,"m":-8},{"t":1237,"e":2,"m":20},
{"t":1262,"e":14,"m":24},{"t":1287,"e":4,"m":2},{"t":1312,"e":10,"m":18},{"t":1337,"e":-8,"m":-14},{"t":1362,"e":16,"m":28},{"t":1387,"e":2,"m":8},{"t":1412,"e":8,"m":16},{"t":1437,"e":-6,"m":-18},{"t":1462,"e":12,"m":22},{"t":1487,"e":6,"m":12},
{"t":1512,"e":-4,"m":-10},{"t":1537,"e":14,"m":24},{"t":1562,"e":2,"m":6},{"t":1587,"e":8,"m":14},{"t":1612,"e":16,"m":30},{"t":1637,"e":-8,"m":-16},{"t":1662,"e":4,"m":10},{"t":1687,"e":10,"m":20},{"t":1712,"e":8,"m":12},{"t":1737,"e":6,"m":-6},
{"t":1762,"e":2,"m":8},{"t":1787,"e":8,"m":16},{"t":1812,"e":4,"m":-12},{"t":1837,"e":-10,"m":-18},{"t":1862,"e":14,"m":24},{"t":1887,"e":12,"m":20},{"t":1912,"e":6,"m":2},{"t":1937,"e":10,"m":18},{"t":1962,"e":16,"m":28},{"t":1987,"e":12,"m":6},
{"t":2012,"e":6,"m":14},{"t":2037,"e":14,"m":22},{"t":2062,"e":4,"m":-10},{"t":2087,"e":0,"m":4},{"t":2112,"e":14,"m":24},{"t":2137,"e":10,"m":16},{"t":2162,"e":-4,"m":-8},{"t":2187,"e":8,"m":14},{"t":2212,"e":10,"m":20},{"t":2237,"e":16,"m":28},
{"t":2262,"e":20,"m":30},{"t":2287,"e":6,"m":10},{"t":2312,"e":10,"m":18},{"t":2337,"e":12,"m":22},{"t":2362,"e":4,"m":-10},{"t":2387,"e":-6,"m":-14},{"t":2412,"e":4,"m":12},{"t":2437,"e":16,"m":26},{"t":2462,"e":8,"m":4},{"t":2487,"e":10,"m":16},
{"t":2512,"e":6,"m":-8},{"t":2537,"e":10,"m":18},{"t":2562,"e":-2,"m":-6},{"t":2587,"e":8,"m":12},{"t":2612,"e":12,"m":22},{"t":2637,"e":-4,"m":-12},{"t":2662,"e":6,"m":14},{"t":2687,"e":18,"m":30},{"t":2712,"e":4,"m":-4},{"t":2737,"e":2,"m":8},
{"t":2762,"e":4,"m":10},{"t":2787,"e":8,"m":16},{"t":2812,"e":10,"m":20},{"t":2837,"e":-4,"m":-8},{"t":2862,"e":2,"m":6},{"t":2887,"e":14,"m":26},{"t":2912,"e":6,"m":-12},{"t":2937,"e":8,"m":14},{"t":2962,"e":-2,"m":-10},{"t":2987,"e":10,"m":18},
{"t":3012,"e":4,"m":8},{"t":3037,"e":-2,"m":-12},{"t":3062,"e":12,"m":22},{"t":3087,"e":10,"m":16},{"t":3112,"e":-4,"m":-14},{"t":3137,"e":6,"m":4},{"t":3162,"e":18,"m":28},{"t":3187,"e":8,"m":16},{"t":3212,"e":4,"m":-2},{"t":3237,"e":14,"m":24},
{"t":3262,"e":8,"m":14},{"t":3287,"e":-4,"m":-16},{"t":3312,"e":2,"m":6},{"t":3337,"e":16,"m":26},{"t":3362,"e":6,"m":-4},{"t":3387,"e":10,"m":18},{"t":3412,"e":14,"m":24},{"t":3437,"e":2,"m":-8},{"t":3462,"e":-2,"m":2},{"t":3487,"e":10,"m":16},
{"t":3512,"e":-2,"m":-12},{"t":3537,"e":-6,"m":-18},{"t":3562,"e":10,"m":16},{"t":3587,"e":4,"m":2},{"t":3612,"e":8,"m":14},{"t":3637,"e":6,"m":-14},{"t":3662,"e":-8,"m":-20},{"t":3687,"e":0,"m":6},{"t":3712,"e":14,"m":22},{"t":3737,"e":4,"m":-6},
{"t":3762,"e":-4,"m":-14},{"t":3787,"e":-8,"m":-20},{"t":3812,"e":-6,"m":-12},{"t":3837,"e":2,"m":6},{"t":3862,"e":-10,"m":-22},{"t":3887,"e":-6,"m":-16},{"t":3912,"e":8,"m":14},{"t":3937,"e":2,"m":-4},{"t":3962,"e":4,"m":10},{"t":3987,"e":-2,"m":-10},
{"t":4012,"e":8,"m":16},{"t":4037,"e":10,"m":20},{"t":4062,"e":6,"m":-6},{"t":4087,"e":2,"m":8},{"t":4112,"e":16,"m":24},{"t":4137,"e":12,"m":18},{"t":4162,"e":-2,"m":-10},{"t":4187,"e":4,"m":6},{"t":4212,"e":10,"m":22},{"t":4237,"e":0,"m":-8},
{"t":4262,"e":6,"m":12},{"t":4287,"e":10,"m":20},{"t":4312,"e":14,"m":26},{"t":4337,"e":8,"m":2},{"t":4362,"e":6,"m":14},{"t":4387,"e":4,"m":-10},{"t":4412,"e":12,"m":24},{"t":4437,"e":10,"m":18},{"t":4462,"e":18,"m":28},{"t":4487,"e":16,"m":20},
{"t":4512,"e":24,"m":34},{"t":4537,"e":20,"m":28},{"t":4562,"e":16,"m":24},{"t":4587,"e":6,"m":-6},{"t":4612,"e":4,"m":10},{"t":4637,"e":18,"m":30},{"t":4662,"e":12,"m":20},{"t":4687,"e":8,"m":-10},{"t":4712,"e":-2,"m":-12},{"t":4737,"e":6,"m":14},
{"t":4762,"e":12,"m":22},{"t":4787,"e":6,"m":10},{"t":4812,"e":2,"m":-8},{"t":4837,"e":8,"m":16},{"t":4862,"e":-4,"m":-12},{"t":4887,"e":-2,"m":-10},{"t":4912,"e":10,"m":18},{"t":4937,"e":4,"m":-4},{"t":4962,"e":-2,"m":-14},{"t":4987,"e":8,"m":12},
{"t":5012,"e":2,"m":-6},{"t":5037,"e":4,"m":12},{"t":5062,"e":8,"m":16},{"t":5087,"e":-4,"m":-14},{"t":5112,"e":4,"m":10},{"t":5137,"e":8,"m":14},{"t":5162,"e":10,"m":22},{"t":5187,"e":6,"m":-8},{"t":5212,"e":22,"m":30},{"t":5237,"e":20,"m":28},
{"t":5262,"e":18,"m":26},{"t":5287,"e":16,"m":24},{"t":5312,"e":10,"m":16},{"t":5337,"e":2,"m":-6},{"t":5362,"e":6,"m":14},{"t":5387,"e":8,"m":-10},{"t":5412,"e":10,"m":18},{"t":5437,"e":6,"m":12},{"t":5462,"e":4,"m":-8},{"t":5487,"e":12,"m":20},
{"t":5512,"e":8,"m":16},{"t":5537,"e":2,"m":-6},{"t":5562,"e":4,"m":10},{"t":5587,"e":6,"m":14},{"t":5612,"e":-2,"m":-12},{"t":5637,"e":4,"m":6},{"t":5662,"e":14,"m":24},{"t":5687,"e":8,"m":16},{"t":5712,"e":6,"m":-4},{"t":5737,"e":4,"m":10},
{"t":5762,"e":2,"m":-8},{"t":5787,"e":8,"m":16}],
"sx":[{"s":"+σ","t":0,"v":110},{"s":"+σ","t":1,"v":12},{"s":"+σ","t":5800,"v":12},{"s":"-σ","t":0,"v":-110},{"s":"-σ","t":1,"v":-12},{"s":"-σ","t":5800,"v":-12}],
"sy":[{"s":"+σ","t":0,"v":110},{"s":"+σ","t":1,"v":13},{"s":"+σ","t":5800,"v":13},{"s":"-σ","t":0,"v":-110},{"s":"-σ","t":1,"v":-13},{"s":"-σ","t":5800,"v":-13}],
"sz":[{"s":"+σ","t":0,"v":110},{"s":"+σ","t":1,"v":14},{"s":"+σ","t":5800,"v":14},{"s":"-σ","t":0,"v":-110},{"s":"-σ","t":1,"v":-14},{"s":"-σ","t":5800,"v":-14}]
},
"vconcat":[
{"width":651,"height":117,
 "layer":[
  {"data":{"name":"vx"},"mark":{"type":"line","strokeWidth":1.2,"clip":true},
   "encoding":{
    "x":{"field":"t","type":"quantitative","scale":{"domain":[0,6000],"nice":false},"axis":{"orient":"bottom","values":[0,1000,2000,3000,4000,5000,6000],"format":"d","title":null,"labelPadding":12}},
    "y":{"field":"e","type":"quantitative","scale":{"domain":[-110,110],"nice":false},"axis":{"orient":"left","values":[-100,0,100],"labelExpr":"datum.value/100","labelPadding":12,"title":"×10⁻⁴","titleAngle":0,"titleX":0,"titleY":-6,"titleAlign":"left","titleBaseline":"alphabetic","titleFontWeight":"normal","titleFontSize":16,"titleColor":"#262626"}},
    "color":{"datum":"Error","type":"nominal","title":null,"scale":{"domain":["Error","+σ","-σ","Measurement - Truth"],"range":["#0072BD","#D95319","#EDB120","#000000"]},
     "legend":{"orient":"none","legendX":437,"legendY":-88,"direction":"vertical","title":null,"symbolSize":3600,"symbolStrokeWidth":1.5,"clipHeight":15,"rowPadding":5.7,"padding":6,"labelOffset":5,"labelFontSize":15.5,"labelFont":"Liberation Sans","labelColor":"#000000","labelLimit":300,"strokeColor":"#262626","fillColor":"#ffffff"}}
   }},
  {"data":{"name":"sx"},"mark":{"type":"line","strokeWidth":1.4,"clip":true},
   "encoding":{
    "x":{"field":"t","type":"quantitative","axis":{"orient":"top","values":[0,1000,2000,3000,4000,5000,6000],"labels":false,"title":"X velocity errors","titleFontSize":18.5,"titleFontWeight":"bold","titleColor":"#000000","titlePadding":7,"titleBaseline":"alphabetic"}},
    "y":{"field":"v","type":"quantitative","axis":{"orient":"right","values":[-100,0,100],"labels":false,"title":"Velocities","titleAngle":0,"titleX":-341,"titleY":-54,"titleAlign":"center","titleBaseline":"alphabetic","titleFontSize":26,"titleFontWeight":"normal","titleColor":"#000000"}},
    "color":{"field":"s","type":"nominal","title":null}
   }},
  {"data":{"name":"vx"},"mark":{"type":"point","filled":true,"opacity":1,"clip":true},
   "encoding":{
    "x":{"field":"t","type":"quantitative","axis":null},
    "y":{"field":"m","type":"quantitative","axis":null},
    "color":{"datum":"Measurement - Truth","type":"nominal","title":null},
    "shape":{"datum":"Measurement - Truth","type":"nominal","title":null,"scale":{"domain":["Error","+σ","-σ","Measurement - Truth"],"range":["stroke","stroke","stroke","square"]}},
    "size":{"datum":"Measurement - Truth","type":"nominal","title":null,"scale":{"type":"ordinal","domain":["Error","+σ","-σ","Measurement - Truth"],"range":[3600,3600,3600,4]}}
   }}
 ],
 "resolve":{"axis":{"x":"independent","y":"independent"}}
},
{"width":651,"height":117,
 "layer":[
  {"data":{"name":"vy"},"mark":{"type":"line","strokeWidth":1.2,"clip":true},
   "encoding":{
    "x":{"field":"t","type":"quantitative","scale":{"domain":[0,6000],"nice":false},"axis":{"orient":"bottom","values":[0,1000,2000,3000,4000,5000,6000],"format":"d","title":null,"labelPadding":12}},
    "y":{"field":"e","type":"quantitative","scale":{"domain":[-110,110],"nice":false},"axis":{"orient":"left","values":[-100,0,100],"labelExpr":"datum.value/100","labelPadding":12,"title":"×10⁻⁴","titleAngle":0,"titleX":0,"titleY":-6,"titleAlign":"left","titleBaseline":"alphabetic","titleFontWeight":"normal","titleFontSize":16,"titleColor":"#262626"}},
    "color":{"datum":"Error","type":"nominal","scale":{"domain":["Error","+σ","-σ","Measurement - Truth"],"range":["#0072BD","#D95319","#EDB120","#000000"]},"legend":null}
   }},
  {"data":{"name":"sy"},"mark":{"type":"line","strokeWidth":1.4,"clip":true},
   "encoding":{
    "x":{"field":"t","type":"quantitative","axis":{"orient":"top","values":[0,1000,2000,3000,4000,5000,6000],"labels":false,"title":"Y velocity errors","titleFontSize":18.5,"titleFontWeight":"bold","titleColor":"#000000","titlePadding":7,"titleBaseline":"alphabetic"}},
    "y":{"field":"v","type":"quantitative","axis":{"orient":"right","values":[-100,0,100],"labels":false,"title":null}},
    "color":{"field":"s","type":"nominal","legend":null}
   }},
  {"data":{"name":"vy"},"mark":{"type":"square","size":4,"opacity":1,"clip":true},
   "encoding":{
    "x":{"field":"t","type":"quantitative","axis":null},
    "y":{"field":"m","type":"quantitative","axis":null},
    "color":{"datum":"Measurement - Truth","type":"nominal","legend":null}
   }}
 ],
 "resolve":{"axis":{"x":"independent","y":"independent"}}
},
{"width":651,"height":117,
 "layer":[
  {"data":{"name":"vz"},"mark":{"type":"line","strokeWidth":1.2,"clip":true},
   "encoding":{
    "x":{"field":"t","type":"quantitative","scale":{"domain":[0,6000],"nice":false},"axis":{"orient":"bottom","values":[0,1000,2000,3000,4000,5000,6000],"format":"d","title":null,"labelPadding":12}},
    "y":{"field":"e","type":"quantitative","scale":{"domain":[-110,110],"nice":false},"axis":{"orient":"left","values":[-100,0,100],"labelExpr":"datum.value/100","labelPadding":12,"title":"×10⁻⁴","titleAngle":0,"titleX":0,"titleY":-6,"titleAlign":"left","titleBaseline":"alphabetic","titleFontWeight":"normal","titleFontSize":16,"titleColor":"#262626"}},
    "color":{"datum":"Error","type":"nominal","scale":{"domain":["Error","+σ","-σ","Measurement - Truth"],"range":["#0072BD","#D95319","#EDB120","#000000"]},"legend":null}
   }},
  {"data":{"name":"sz"},"mark":{"type":"line","strokeWidth":1.4,"clip":true},
   "encoding":{
    "x":{"field":"t","type":"quantitative","axis":{"orient":"top","values":[0,1000,2000,3000,4000,5000,6000],"labels":false,"title":"Z velocity errors","titleFontSize":18.5,"titleFontWeight":"bold","titleColor":"#000000","titlePadding":7,"titleBaseline":"alphabetic"}},
    "y":{"field":"v","type":"quantitative","axis":{"orient":"right","values":[-100,0,100],"labels":false,"title":null}},
    "color":{"field":"s","type":"nominal","legend":null}
   }},
  {"data":{"name":"vz"},"mark":{"type":"square","size":4,"opacity":1,"clip":true},
   "encoding":{
    "x":{"field":"t","type":"quantitative","axis":null},
    "y":{"field":"m","type":"quantitative","axis":null},
    "color":{"datum":"Measurement - Truth","type":"nominal","legend":null}
   }}
 ],
 "resolve":{"axis":{"x":"independent","y":"independent"}}
}
],
"spacing":61,
"bounds":"flush",
"resolve":{"scale":{"color":"independent","shape":"independent","size":"independent"},"legend":{"color":"independent","shape":"independent","size":"independent"}}
}
